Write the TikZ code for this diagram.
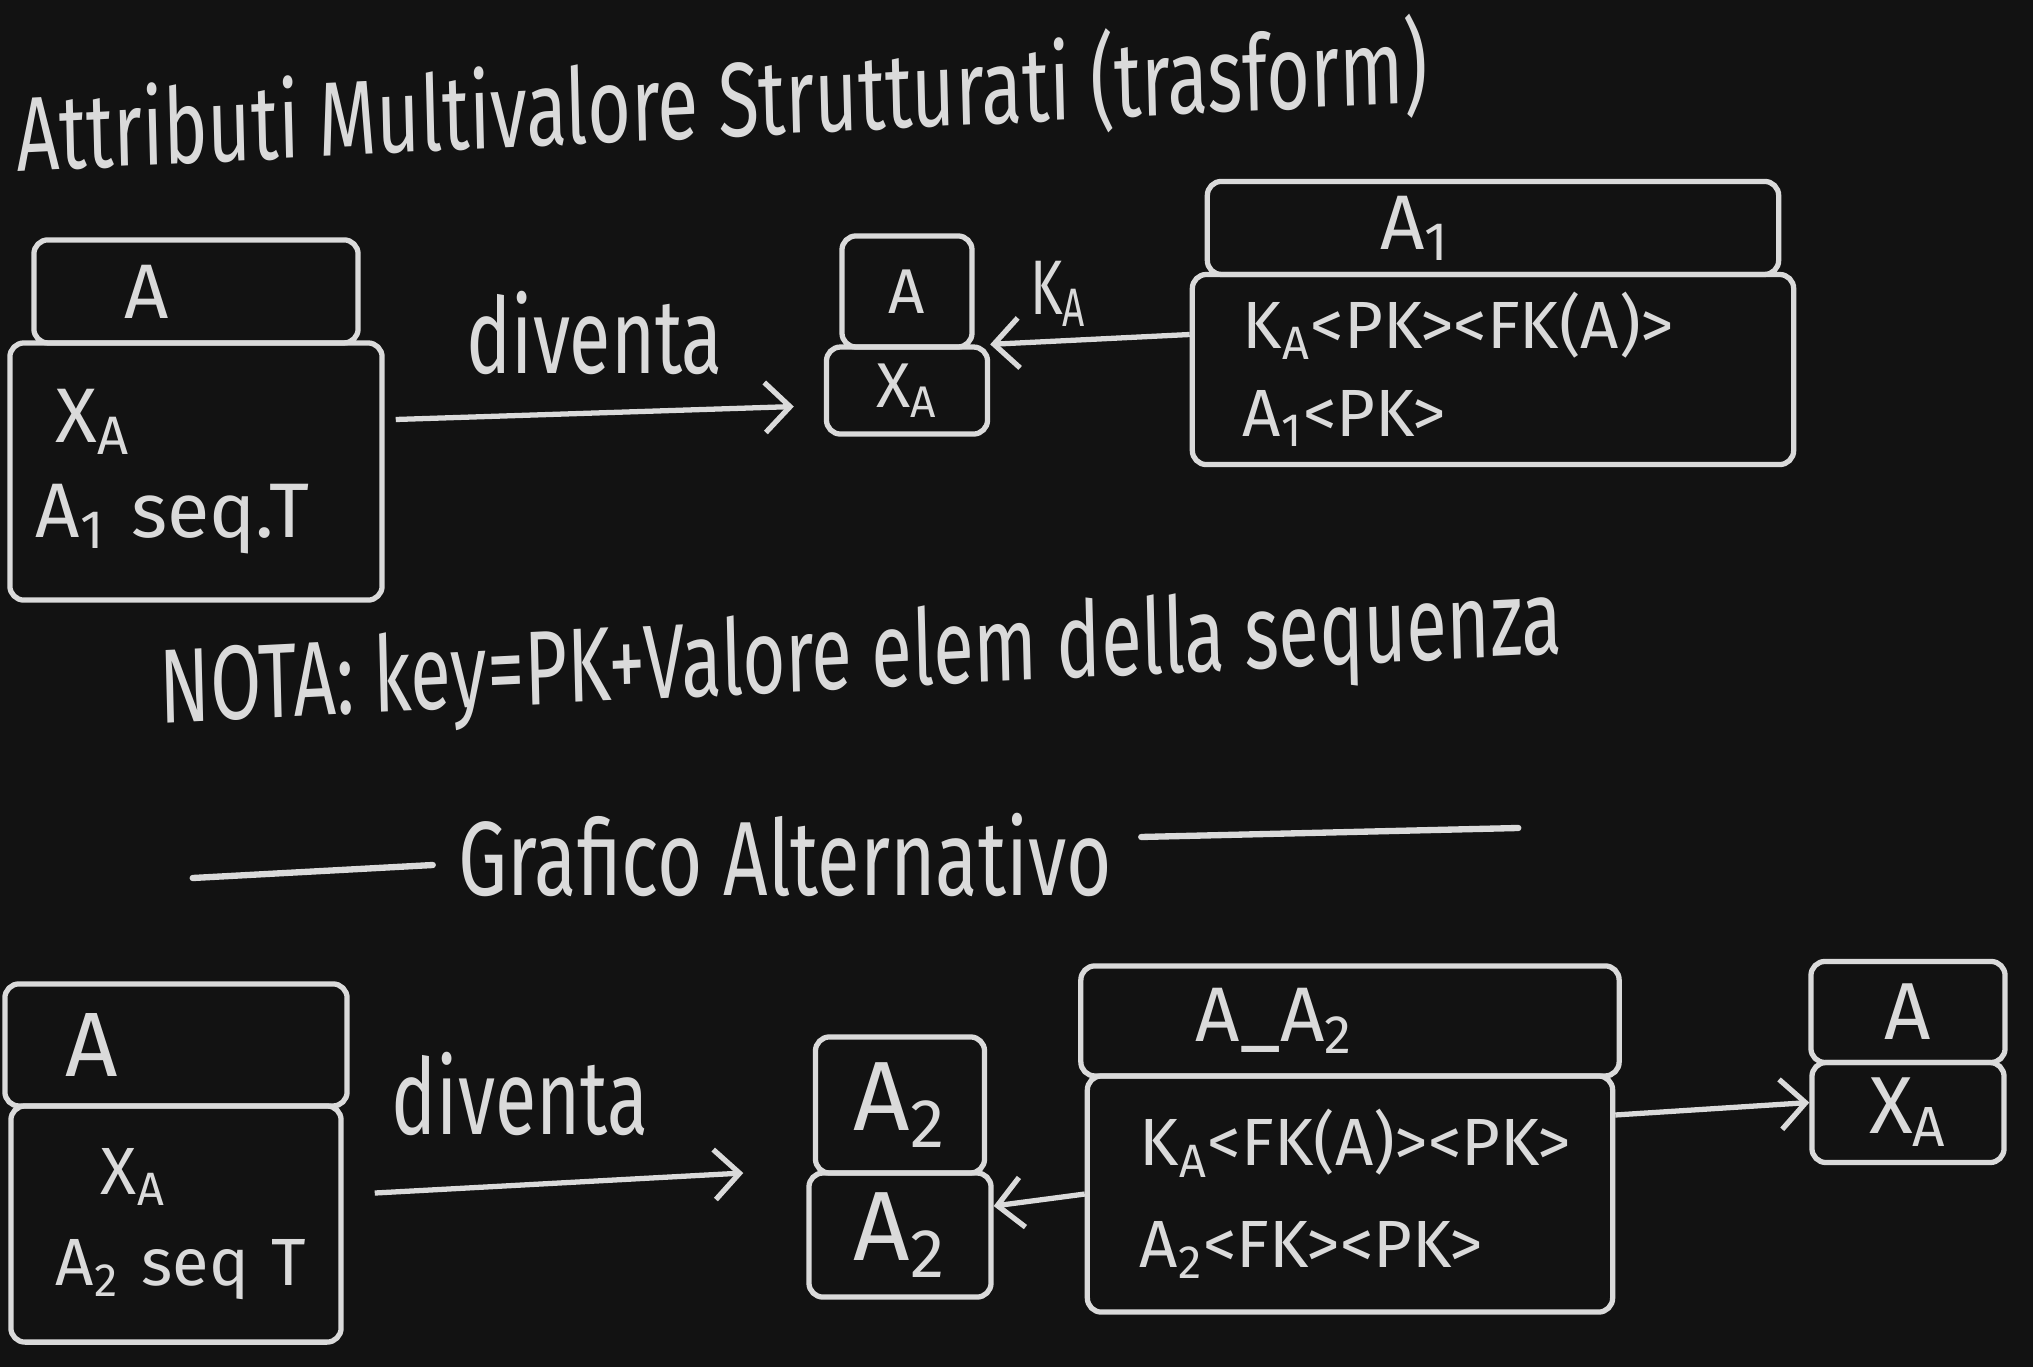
\documentclass[tikz,border=0pt]{standalone}
\usepackage{fontspec}
\setmainfont{Fira Sans}
\usetikzlibrary{matrix,arrows.meta,positioning}

\definecolor{board}{HTML}{121212}
\definecolor{chalk}{HTML}{DADADA}

\begin{document}
\begin{tikzpicture}[%
    x=0.01cm, y=-0.01cm,
    entity/.style={%
        matrix of nodes,
        line width=1.5pt,
        row sep=-\pgflinewidth, % header e corpo condividono la linea
        nodes={%
            draw=chalk,
            line width=1.5pt,
            rounded corners=4pt,
            anchor=center,
            text=chalk,
            inner sep=0pt,
            font=\fontsize{22}{27}\selectfont,
        },
    },
    hand/.style={text=chalk, inner sep=0pt, xscale=0.65, font=\fontsize{30}{36}\selectfont},
    link/.style={draw=chalk, line width=1.5pt, -{Straight Barb[length=0.25cm,width=0.5cm]}},
    rule/.style={draw=chalk, line width=1.8pt, line cap=round},
]
% lavagna
\useasboundingbox (0,0) rectangle (2033,1367);
\fill[board] (0,0) rectangle (2033,1367);

\node[hand, xscale=1.09, rotate=2] (title) at (722,100) {Attributi Multivalore Strutturati (trasform)};

% prima soluzione
\matrix[entity] (ent) at (196,420) {
    |[minimum width=3.24cm, minimum height=1.03cm, text width=1.42cm, align=left]| A \\
    |[minimum width=3.72cm, minimum height=2.57cm, text width=3.2cm, align=left]|
    {\hspace*{0.2cm}X\textsubscript{A}\\A\textsubscript{1} seq.T} \\
};
\matrix[entity, nodes={font=\fontsize{18}{22}\selectfont}] (entres) at (907,335) {
    |[minimum width=1.30cm, minimum height=1.11cm]| A \\
    |[minimum width=1.61cm, minimum height=0.87cm]| X\textsubscript{A} \\
};
\matrix[entity, nodes={font=\fontsize{19}{25}\selectfont}] (seqtab) at (1493,323) {
    |[minimum width=5.71cm, minimum height=0.93cm, text width=2.25cm, align=left, font=\fontsize{22}{26}\selectfont]| A\textsubscript{1} \\
    |[minimum width=6.01cm, minimum height=1.90cm, text width=5.0cm, align=left]|
    {K\textsubscript{A}<PK><FK(A)>\\A\textsubscript{1}<PK>} \\
};

\draw[link] ([xshift=0.11cm, yshift=0.52cm]ent-2-1.east)
    -- node[hand, midway, above=0.36cm, xscale=1.1] (div1) {diventa}
    ([xshift=-0.3cm, yshift=-0.16cm]entres-2-1.west);
\draw[link] ([yshift=0.35cm]seqtab-2-1.west)
    -- node[hand, pos=0.66, above=0.12cm, xscale=1.1, font=\fontsize{22}{26}\selectfont] (ka) {K\textsubscript{A}}
    (entres-2-1.north east);

\node[hand, xscale=1.08, rotate=2] (note) at (861,660) {NOTA: key=PK+Valore elem della sequenza};

% grafico alternativo
\node[hand, xscale=1.135] (alt) at (785,855) {Grafico Alternativo};
\draw[rule] ([xshift=-0.25cm, yshift=-0.1cm]alt.west) -- ++(-240,13);
\draw[rule] ([xshift=0.29cm, yshift=0.18cm]alt.east) -- ++(377,-9);

\matrix[entity] (ent2) at (176,1163) {
    |[minimum width=3.42cm, minimum height=1.22cm, text width=2.2cm, align=left, font=\fontsize{26}{30}\selectfont]| A \\
    |[minimum width=3.30cm, minimum height=2.36cm, text width=3.0cm, align=left, font=\fontsize{19}{26}\selectfont]|
    {\hspace*{0.75cm}X\textsubscript{A}\\\hspace*{0.3cm}A\textsubscript{2} seq T} \\
};
\matrix[entity, nodes={font=\fontsize{28}{32}\selectfont}] (seqval) at (900,1167) {
    |[minimum width=1.69cm, minimum height=1.36cm]| A\textsubscript{2} \\
    |[minimum width=1.82cm, minimum height=1.24cm]| A\textsubscript{2} \\
};
\matrix[entity, nodes={font=\fontsize{19}{29}\selectfont}] (rel) at (1350,1139) {
    |[minimum width=5.38cm, minimum height=1.10cm, text width=3.08cm, align=left, font=\fontsize{22}{26}\selectfont]| A\_A\textsubscript{2} \\
    |[minimum width=5.25cm, minimum height=2.36cm, text width=4.2cm, align=left]|
    {K\textsubscript{A}<FK(A)><PK>\\A\textsubscript{2}<FK><PK>} \\
};
\matrix[entity, nodes={font=\fontsize{23}{26}\selectfont}] (entA) at (1908,1062) {
    |[minimum width=1.94cm, minimum height=1.01cm]| A \\
    |[minimum width=1.92cm, minimum height=1.00cm]| X\textsubscript{A} \\
};

\draw[link] ([xshift=0.31cm, yshift=0.31cm]ent2-2-1.east)
    -- node[hand, midway, above=0.45cm, xshift=-0.6cm, xscale=1.1] (div2) {diventa}
    ([xshift=-0.63cm, yshift=0.62cm]seqval-2-1.west);
\draw[link] (rel-2-1.west) -- ([yshift=0.29cm]seqval-2-1.east);
\draw[link] ([yshift=0.79cm]rel-2-1.east) -- ([yshift=0.1cm]entA-2-1.west);

\end{tikzpicture}
\end{document}
